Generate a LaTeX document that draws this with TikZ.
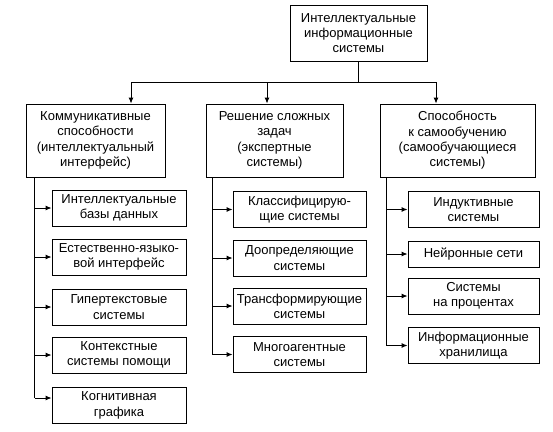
\documentclass[tikz,border=0pt]{standalone}
\usepackage{fontspec}
\setmainfont{Liberation Sans}
\usetikzlibrary{arrows.meta}

\begin{document}
\begin{tikzpicture}[x=1pt,y=-1pt,
   every node/.style={font=\fontsize{13}{15.3}\selectfont},
   box/.style={draw,shape=rectangle,line width=0.9pt,align=center,inner sep=1pt},
   topbox/.style={box,minimum width=137pt,minimum height=56pt},
   groupbox/.style={box,minimum height=73pt},
   leafbox/.style={box,minimum height=36pt},
   link/.style={line width=0.9pt},
   arr/.style={link,-{Latex[length=6pt,width=5pt]}}]
   \useasboundingbox (0,0) rectangle (553,431);
   % top level
   \path (358.5,33) node[topbox] (IIS)
   {Интеллектуальные\\информационные\\системы};
   % three groups
   \path (95.5,140.5) node[groupbox,minimum width=139pt] (KS)
   {Коммуникативные\\способности\\(интеллектуальный\\интерфейс)};
   \path (274.5,140.5) node[groupbox,minimum width=137pt] (RZ)
   {Решение сложных\\задач\\(экспертные\\системы)};
   \path (457.5,140.5) node[groupbox,minimum width=155pt] (SS)
   {Способность\\к самообучению\\(самообучающиеся\\системы)};
   % left column
   \path (119,208) node[leafbox,minimum width=134pt] (KS1)
   {Интеллектуальные\\базы данных};
   \path (119,257) node[leafbox,minimum width=134pt] (KS2)
   {Естественно-языко-\\вой интерфейс};
   \path (119,307) node[leafbox,minimum width=134pt] (KS3)
   {Гипертекстовые\\системы};
   \path (119,355) node[leafbox,minimum width=134pt] (KS4)
   {Контекстные\\системы помощи};
   \path (119,405.5) node[leafbox,minimum width=134pt] (KS5)
   {Когнитивная\\графика};
   % middle column
   \path (299.5,209.5) node[leafbox,minimum width=133pt] (RZ1)
   {Классифицирую-\\щие системы};
   \path (299.5,258) node[leafbox,minimum width=133pt] (RZ2)
   {Доопределяющие\\системы};
   \path (299.5,306) node[leafbox,minimum width=133pt] (RZ3)
   {Трансформирующие\\системы};
   \path (299.5,354.5) node[leafbox,minimum width=133pt] (RZ4)
   {Многоагентные\\системы};
   % right column
   \path (473.5,209.5) node[leafbox,minimum width=131pt] (SS1)
   {Индуктивные\\системы};
   \path (473.5,254) node[leafbox,minimum width=131pt,minimum height=26pt] (SS2)
   {Нейронные сети};
   \path (473.5,296) node[leafbox,minimum width=131pt] (SS3)
   {Системы\\на процентах};
   \path (473.5,345.5) node[leafbox,minimum width=131pt] (SS4)
   {Информационные\\хранилища};
   % top bus
   \coordinate (bus) at ([yshift=-21pt]IIS.south);
   \coordinate (aKS) at ([xshift=35.5pt]KS.north);
   \coordinate (aRZ) at ([xshift=-7.5pt]RZ.north);
   \coordinate (aSS) at ([xshift=-21.5pt]SS.north);
   \draw[link] (IIS.south) -- (bus);
   \draw[link] (aKS |- bus) -- (aSS |- bus);
   \foreach \g in {KS,RZ,SS}
      \draw[arr] (a\g |- bus) -- (a\g);
   % trunks
   \coordinate (tKS) at ([xshift=9pt]KS.south west);
   \coordinate (tRZ) at ([xshift=7pt]RZ.south west);
   \coordinate (tSS) at ([xshift=7pt]SS.south west);
   \coordinate (eKS) at ([yshift=7.5pt]KS5.west);
   \draw[link] (tKS) -- (tKS |- eKS);
   \draw[link] (tRZ) -- (tRZ |- RZ4.west);
   \draw[link] (tSS) -- (tSS |- SS4.west);
   \foreach \n in {KS1,KS2,KS3,KS4}
      \draw[arr] (tKS |- \n.west) -- (\n.west);
   \draw[arr] (tKS |- eKS) -- (eKS);
   \foreach \n in {RZ1,RZ2,RZ3,RZ4}
      \draw[arr] (tRZ |- \n.west) -- (\n.west);
   \foreach \n in {SS1,SS2,SS3,SS4}
      \draw[arr] (tSS |- \n.west) -- (\n.west);
\end{tikzpicture}
\end{document}
